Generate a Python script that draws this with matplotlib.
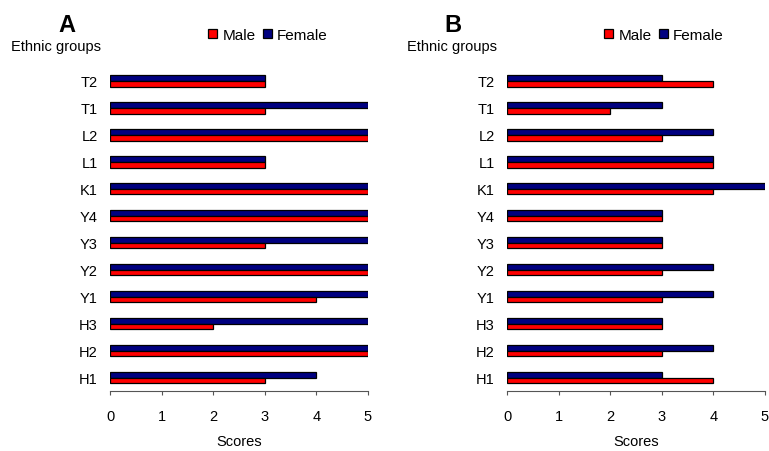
import matplotlib
matplotlib.use("Agg")
import matplotlib.pyplot as plt
from matplotlib.patches import Patch
import numpy as np

plt.rcParams['font.family'] = ['Liberation Sans', 'DejaVu Sans']

categories = ["H1", "H2", "H3", "Y1", "Y2", "Y3", "Y4", "K1", "L1", "L2", "T1", "T2"]
a_male = [3, 5, 2, 4, 5, 3, 5, 5, 3, 5, 3, 3]
a_female = [4, 5, 5, 5, 5, 5, 5, 5, 3, 5, 5, 3]
b_male = [4, 3, 3, 3, 3, 3, 3, 4, 4, 3, 2, 4]
b_female = [3, 4, 3, 4, 4, 3, 3, 5, 4, 4, 3, 3]
xticks = [0, 1, 2, 3, 4, 5]

RED = "#ff0000"
BLUE = "#000080"

fig = plt.figure(figsize=(7.69, 4.52), dpi=100)

def panel(left, male, female, letter, letter_x, label_x, leg_x):
    ax = fig.add_axes([left, 1 - 392 / 452, 0.3355, (392 - 68.5) / 452])
    y = np.arange(len(categories))
    h = 0.21
    ax.barh(y + h / 2, female, height=h, color=BLUE, edgecolor="black", linewidth=0.9)
    ax.barh(y - h / 2, male, height=h, color=RED, edgecolor="black", linewidth=0.9)
    ax.set_ylim(-0.5, len(categories) - 0.5)
    ax.set_xlim(0, 5)
    ax.set_yticks(y)
    ax.set_yticklabels(categories, fontsize=10.5)
    ax.set_xticks(xticks)
    ax.set_xticklabels([str(t) for t in xticks], fontsize=10.5)
    for s in ["top", "right", "left"]:
        ax.spines[s].set_visible(False)
    ax.spines["bottom"].set_color("#555555")
    ax.tick_params(axis="y", length=0, pad=9)
    ax.tick_params(axis="x", length=3, color="#555555", pad=10, direction="out")
    ax.set_xlabel("Scores", fontsize=10.5, labelpad=8)
    fig.text(letter_x, 1 - 26 / 452, letter, fontsize=17, fontweight="black", ha="left", va="center")
    fig.text(label_x, 1 - 47 / 452, "Ethnic groups", fontsize=10.5, ha="left", va="center")
    handles = [Patch(facecolor=RED, edgecolor="black", linewidth=0.9, label="Male"),
               Patch(facecolor=BLUE, edgecolor="black", linewidth=0.9, label="Female")]
    fig.legend(handles=handles, loc="center left", bbox_to_anchor=(leg_x, 1 - 36 / 452),
               ncol=2, frameon=False, fontsize=11, handlelength=0.6, handleheight=0.6,
               handletextpad=0.35, columnspacing=0.45, borderaxespad=0, borderpad=0)
    return ax

panel(110 / 769, a_male, a_female, "A", 58 / 769, 11 / 769, 208 / 769)
panel(507 / 769, b_male, b_female, "B", 444 / 769, 407 / 769, 604 / 769)

fig.savefig("out.png", dpi=100)
